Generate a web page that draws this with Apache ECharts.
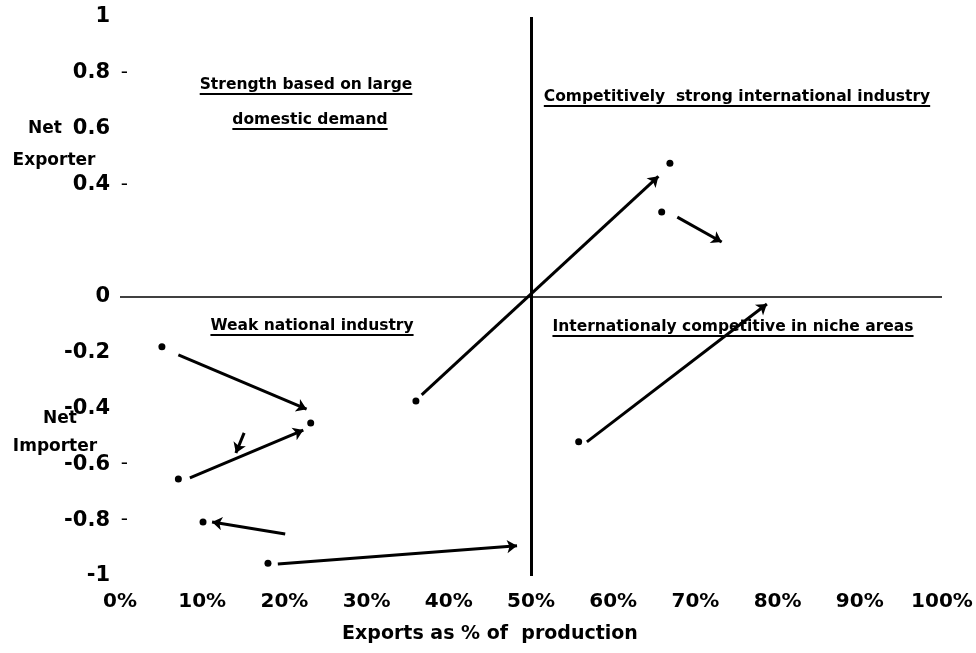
<!DOCTYPE html>
<html><head><meta charset="utf-8">
<script src="https://cdn.jsdelivr.net/npm/echarts@6/dist/echarts.min.js"></script>
<style>html,body{margin:0;padding:0;background:#fff}#c{width:976px;height:653px}</style>
</head><body><div id="c"></div>
<script>
// ---- data ----
const xTickLabels = ['0%','10%','20%','30%','40%','50%','60%','70%','80%','90%','100%'];
const yTickValues = [1, 0.8, 0.6, 0.4, 0, -0.2, -0.4, -0.6, -0.8, -1];
const yTickLabels = ['1','0.8','0.6','0.4','0','-0.2','-0.4','-0.6','-0.8','-1'];
const yTickDashed = [0.8, 0.4, -0.6, -0.8];
const arrowFrom = [[36.7,-0.352],[67.8,0.284],[56.8,-0.52],[7.1,-0.209],[8.5,-0.649],[15.1,-0.488],[20.1,-0.85],[19.2,-0.957]];
const arrowTo   = [[65.5,0.43],[73.2,0.195],[78.7,-0.027],[22.7,-0.403],[22.3,-0.478],[14.1,-0.56],[11.2,-0.807],[48.3,-0.892]];
const pointX = [5.1, 7.1, 23.2, 10.1, 18.0, 36.0, 66.9, 65.9, 55.8];
const pointY = [-0.18, -0.653, -0.453, -0.807, -0.954, -0.374, 0.477, 0.302, -0.52];
const quadrantTexts = ['Strength based on large','domestic demand','Competitively  strong international industry','Weak national industry','Internationaly competitive in niche areas'];
const xAxisTitle = 'Exports as % of  production';
const sideTexts = ['Net','Exporter','Net','Importer'];

// ---- layout ----
const quadPos = [[306,85],[310,120],[737,97],[312,326],[733,327]];
const sidePos = [[45,129],[54,161],[60,419],[55,447]];
const FONT = '"DejaVu Sans", "Liberation Sans", sans-serif';
const QFS = 15.5;

const chart = echarts.init(document.getElementById('c'), null, {renderer:'canvas'});
const ctx = document.createElement('canvas').getContext('2d');
ctx.font = 'bold ' + QFS + 'px "DejaVu Sans"';

const graphics = [];
quadrantTexts.forEach((t,i)=>{
  const w = ctx.measureText(t).width;
  const [cx,cy] = quadPos[i];
  graphics.push({type:'text', x:cx, y:cy, style:{text:t, fill:'#000', fontSize:QFS, fontWeight:'bold', fontFamily:FONT, textAlign:'center', textVerticalAlign:'middle'}});
  graphics.push({type:'line', shape:{x1:cx-w/2, y1:cy+9, x2:cx+w/2, y2:cy+9}, style:{stroke:'#000', lineWidth:2}});
});
sideTexts.forEach((t,i)=>{
  graphics.push({type:'text', x:sidePos[i][0], y:sidePos[i][1], style:{text:t, fill:'#000', fontSize:17, fontWeight:'bold', fontFamily:FONT, textAlign:'center', textVerticalAlign:'middle'}});
});
graphics.push({type:'text', x:490, y:634, style:{text:xAxisTitle, fill:'#000', fontSize:19, fontWeight:'bold', fontFamily:FONT, textAlign:'center', textVerticalAlign:'middle'}});

function yLabel(v){
  const i = yTickValues.findIndex(t=>Math.abs(t-v)<1e-6);
  if (i<0) return '';
  const dashed = yTickDashed.some(t=>Math.abs(t-v)<1e-6);
  return '{v|'+yTickLabels[i]+'}{d|'+(dashed?'-':' ')+'}';
}

chart.setOption({
  animation:false,
  backgroundColor:'#fff',
  grid:{left:120, right:34, top:17, bottom:77},
  xAxis:{type:'value', min:0, max:100, interval:10,
    axisLine:{show:false}, axisTick:{show:false}, splitLine:{show:false},
    axisLabel:{formatter:v=>xTickLabels[Math.round(v/10)], color:'#000', fontSize:20, fontWeight:'bold', fontFamily:FONT, margin:16}},
  yAxis:{type:'value', min:-1, max:1, interval:0.2,
    axisLine:{show:false}, axisTick:{show:false}, splitLine:{show:false},
    axisLabel:{formatter:yLabel, margin:-8,
      rich:{v:{color:'#000', fontSize:21, fontWeight:'bold', fontFamily:FONT},
            d:{color:'#000', fontSize:20, fontFamily:FONT, width:18, align:'right'}}}},
  graphic:graphics,
  series:[
    {type:'scatter', data:pointX.map((x,i)=>[x,pointY[i]]), symbol:'circle', symbolSize:7,
     itemStyle:{color:'#000', opacity:1}, silent:true,
     markLine:{silent:true, symbol:'none', label:{show:false},
       data:[{xAxis:50, lineStyle:{color:'#000', width:3, type:'solid'}},
             {yAxis:0, lineStyle:{color:'#000', width:1.5, type:'solid'}}]}},
    {type:'lines', coordinateSystem:'cartesian2d', polyline:false,
     symbol:['none','arrow'], symbolSize:10,
     lineStyle:{color:'#000', width:3, opacity:1, curveness:0},
     itemStyle:{color:'#000'},
     data:arrowFrom.map((f,i)=>({coords:[f, arrowTo[i]]}))}
  ]
});
</script></body></html>
